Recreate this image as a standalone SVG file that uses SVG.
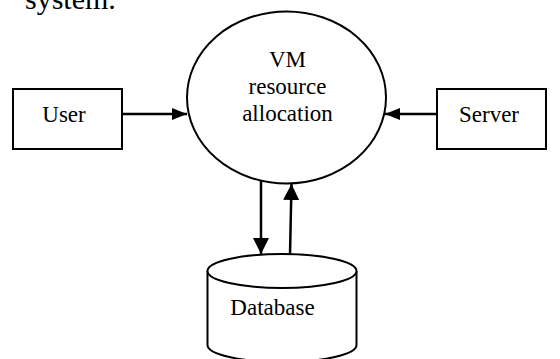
<svg xmlns="http://www.w3.org/2000/svg" width="560" height="359" viewBox="0 0 560 359">
<defs>
<style>
text{font-family:"Liberation Serif","Times New Roman",serif;fill:#000}
.box{fill:#fff;stroke:#000;stroke-width:2}
.conn{fill:none;stroke:#000;stroke-width:2.5}
</style>
<marker id="ah" viewBox="0 0 15 12" refX="15" refY="6" markerWidth="15" markerHeight="12" markerUnits="userSpaceOnUse" orient="auto">
<path d="M0,0 L15,6 L0,12 Z" fill="#000"/>
</marker>
<marker id="av" viewBox="0 0 16 16" refX="16" refY="8" markerWidth="16" markerHeight="16" markerUnits="userSpaceOnUse" orient="auto">
<path d="M0,0 L16,8 L0,16 Z" fill="#000"/>
</marker>
</defs>
<rect width="560" height="359" fill="#fff"/>
<text x="25" y="9" font-size="30">system.</text>
<g id="vm">
<ellipse cx="286.5" cy="97.5" rx="99.5" ry="86" fill="#fff" stroke="#000" stroke-width="2"/>
<text x="287.5" y="67" font-size="23" text-anchor="middle">VM</text>
<text x="287.5" y="94" font-size="23" text-anchor="middle">resource</text>
<text x="287.5" y="121" font-size="23" text-anchor="middle">allocation</text>
</g>
<g id="user">
<rect class="box" x="13" y="89" width="109" height="60"/>
<text x="64" y="122" font-size="23" text-anchor="middle">User</text>
</g>
<g id="server">
<rect class="box" x="437" y="89" width="109" height="60"/>
<text x="489" y="122" font-size="23" text-anchor="middle">Server</text>
</g>
<g id="database">
<path class="box" d="M207.5,271 L207.5,345 A74.5,17 0 0 0 356.5,345 L356.5,271"/>
<ellipse cx="282" cy="271" rx="74.5" ry="17" fill="#fff" stroke="#000" stroke-width="2"/>
<text x="272.5" y="315" font-size="23" text-anchor="middle">Database</text>
</g>
<g id="connectors">
<line class="conn" x1="122" y1="114" x2="187" y2="114" marker-end="url(#ah)"/>
<line class="conn" x1="437" y1="114" x2="385" y2="114" marker-end="url(#ah)"/>
<line class="conn" x1="261" y1="181" x2="261" y2="254" marker-end="url(#av)"/>
<line class="conn" x1="290" y1="255" x2="291.5" y2="184" marker-end="url(#av)"/>
</g>
</svg>
